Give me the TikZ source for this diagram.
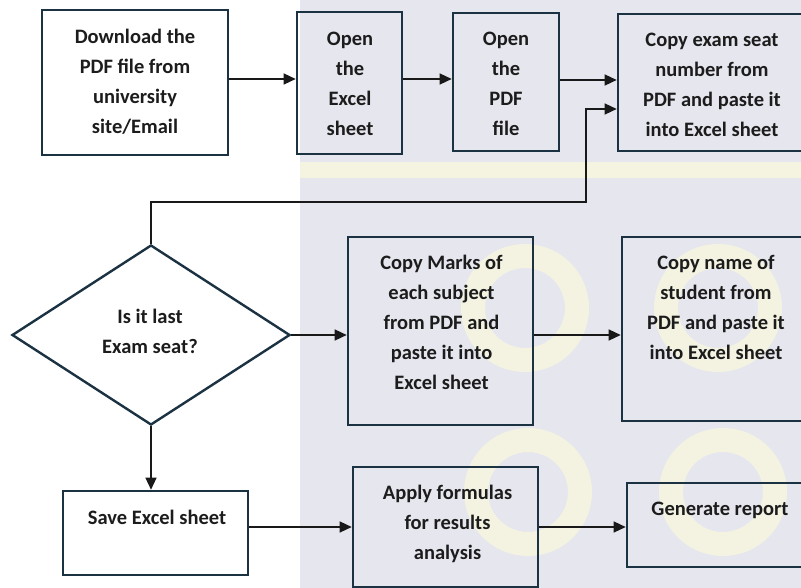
\documentclass[tikz,border=0pt]{standalone}
\usepackage{fontspec}
\setmainfont{Carlito}
\usetikzlibrary{shapes.geometric,arrows.meta,calc}
\definecolor{edge}{HTML}{1B3242}
\definecolor{ink}{HTML}{1C1C1C}
\definecolor{bggray}{HTML}{E6E6EE}
\definecolor{wm}{HTML}{F9F8DE}
\begin{document}
\begin{tikzpicture}[x=1pt,y=-1pt,
  stepbox/.style={draw=edge, line width=2.6pt, inner sep=0pt},
  decbox/.style={draw=edge, line width=2.4pt, shape=diamond, inner sep=0pt},
  txt/.style={font=\bfseries\fontsize{20.5}{30}\selectfont, align=center, text=ink, inner sep=0pt},
  arr/.style={-{Triangle[length=12pt,width=11pt]}, line width=1.3pt, draw=black!90}]
\useasboundingbox (0,0) rectangle (801,588);
\clip (0,0) rectangle (801,588);

% page background with the pale watermark
\fill[white] (0,0) rectangle (801,588);
\fill[bggray] (300,0) rectangle (801,588);
\fill[wm, opacity=0.8] (300,162) rectangle (801,178);
\foreach \cx/\cy in {525/308, 718/308, 528/492, 723/492}
  \draw[wm, opacity=0.75, line width=24pt] (\cx,\cy) circle (52);

% process boxes
\node[stepbox, minimum width=186pt, minimum height=145pt] (b1) at (135,82.5) {};
\node[stepbox, minimum width=105pt, minimum height=142pt] (b2) at (349.5,83) {};
\node[stepbox, minimum width=106pt, minimum height=138pt] (b3) at (506,82) {};
\node[stepbox, minimum width=188pt, minimum height=137pt] (b4) at (712,82.5) {};
\node[decbox, minimum width=278pt, minimum height=180pt] (dec) at (151,335) {};
\node[stepbox, minimum width=185pt, minimum height=188pt] (marks) at (440.5,331) {};
\node[stepbox, minimum width=184pt, minimum height=184pt] (name) at (714,329) {};
\node[stepbox, minimum width=185pt, minimum height=84pt] (save) at (155.5,533) {};
\node[stepbox, minimum width=185pt, minimum height=120pt] (apply) at (445.5,527) {};
\node[stepbox, minimum width=179pt, minimum height=84pt] (gen) at (716.5,525) {};

% box texts
\node[txt] (t1) at (135,82) {Download the\\PDF file from\\university\\site/Email};
\node[txt] (t2) at (350,84) {Open\\the\\Excel\\sheet};
\node[txt] (t3) at (506,84) {Open\\the\\PDF\\file};
\node[txt] (t4) at (712,85) {Copy exam seat\\number from\\PDF and paste it\\into Excel sheet};
\node[txt] (td) at (150,331) {Is it last\\Exam seat?};
\node[txt] (tm) at (441.5,322) {Copy Marks of\\each subject\\from PDF and\\paste it into\\Excel sheet};
\node[txt] (tn) at (716,307) {Copy name of\\student from\\PDF and paste it\\into Excel sheet};
\node[txt] (ts) at (157,517) {Save Excel sheet};
\node[txt] (ta) at (447.5,524) {Apply formulas\\for results\\analysis};
\node[txt] (tg) at (720,510) {Generate report};

% connectors
\coordinate (bend) at (586,202);
\draw[arr] ([yshift=3.5pt]b1.east) -- ([yshift=3.5pt]b1.east -| b2.west);
\draw[arr] ([yshift=4pt]b2.east) -- ([yshift=4pt]b2.east -| b3.west);
\draw[arr] ([yshift=2pt]b3.east) -- ([yshift=2pt]b3.east -| b4.west);
\draw[arr] (dec.north) |- (bend) |- ([yshift=-26.5pt]b4.west);
\draw[arr] (dec.east) -- (dec.east -| marks.west);
\draw[arr] ([yshift=-4pt]marks.east) -- ([yshift=-4pt]marks.east -| name.west);
\draw[arr] (dec.south) -- (dec.south |- save.north);
\draw[arr] ([yshift=6pt]save.east) -- ([yshift=6pt]save.east -| apply.west);
\draw[arr] (apply.east) -- (apply.east -| gen.west);
\end{tikzpicture}
\end{document}
